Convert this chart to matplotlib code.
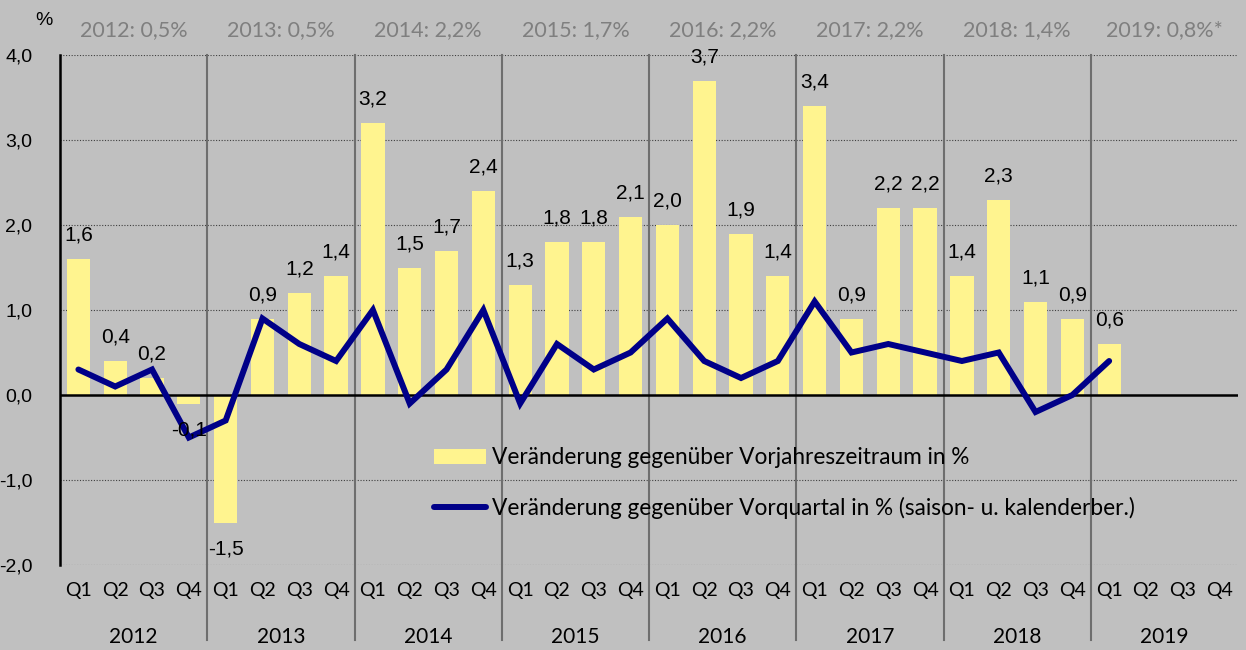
import numpy as np
import matplotlib
matplotlib.use("Agg")
import matplotlib.pyplot as plt
import matplotlib.transforms as mtransforms

years = ["2012", "2013", "2014", "2015", "2016", "2017", "2018", "2019"]
quarters = ["Q1", "Q2", "Q3", "Q4"]
year_notes = ["2012: 0,5%", "2013: 0,5%", "2014: 2,2%", "2015: 1,7%",
              "2016: 2,2%", "2017: 2,2%", "2018: 1,4%", "2019: 0,8%*"]

# Veränderung gegenüber Vorjahreszeitraum (bars)
yoy = [1.6, 0.4, 0.2, -0.1,
       -1.5, 0.9, 1.2, 1.4,
       3.2, 1.5, 1.7, 2.4,
       1.3, 1.8, 1.8, 2.1,
       2.0, 3.7, 1.9, 1.4,
       3.4, 0.9, 2.2, 2.2,
       1.4, 2.3, 1.1, 0.9,
       0.6]
# Veränderung gegenüber Vorquartal (line)
qoq = [0.3, 0.1, 0.3, -0.5,
       -0.3, 0.9, 0.6, 0.4,
       1.0, -0.1, 0.3, 1.0,
       -0.1, 0.6, 0.3, 0.5,
       0.9, 0.4, 0.2, 0.4,
       1.1, 0.5, 0.6, 0.5,
       0.4, 0.5, -0.2, 0.0,
       0.4]

bg = "#c0c0c0"
fig = plt.figure(figsize=(12.46, 6.5), dpi=100, facecolor=bg)
ax = fig.add_axes([60 / 1246, 85 / 650, 1178 / 1246, 510 / 650])
ax.set_facecolor(bg)

n_total = len(years) * 4
x = np.arange(len(yoy))

ax.set_xlim(-0.5, n_total - 0.5)
ax.set_ylim(-2.0, 4.0)

for yv in [-2, -1, 1, 2, 3, 4]:
    ax.axhline(yv, color="#404040", lw=0.8, ls=(0, (1, 1.5)), zorder=0)
ax.axhline(0, color="black", lw=1.8, zorder=3)

bars = ax.bar(x, yoy, width=0.63, color="#fff48f", zorder=1)
line, = ax.plot(x, qoq, color="#000088", lw=4.3, solid_joinstyle="miter",
                solid_capstyle="round", zorder=4)

for xi, v in zip(x, yoy):
    txt = f"{v:.1f}".replace(".", ",")
    off = 17 if v >= 0 else -19
    ax.annotate(txt, (xi, v), xytext=(0, off), textcoords="offset points",
                ha="center", va="center", fontsize=15, family="Liberation Sans", zorder=5)

# year separators running down into the label area
trans = mtransforms.blended_transform_factory(ax.transData, ax.transAxes)
for k in range(1, len(years)):
    ax.plot([4 * k - 0.5] * 2, [-0.147, 1.0], transform=trans, color="#6e6e6e",
            lw=1.5, clip_on=False, zorder=2)

ax.set_xticks(np.arange(n_total))
ax.set_xticklabels(quarters * len(years), family="Lato", fontsize=14)
ax.tick_params(axis="x", length=0, pad=12.5)
for i, (yr, note) in enumerate(zip(years, year_notes)):
    cx = 4 * i + 1.5
    ax.text(cx, -0.141, yr, transform=trans, ha="center", va="center",
            family="Lato", fontsize=15)
    ax.text(cx, 1.049, note, transform=trans, ha="center", va="center",
            family="Lato", fontsize=15.5, color="#7f7f7f")

yt = [-2, -1, 0, 1, 2, 3, 4]
ax.set_yticks(yt)
ax.set_yticklabels([f"{v:.1f}".replace(".", ",") for v in yt],
                   family="Liberation Sans", fontsize=14)
ax.tick_params(axis="y", length=0, pad=20)
ax.text(-0.006, 1.068, "%", transform=ax.transAxes, ha="right", va="center",
        family="Liberation Sans", fontsize=14)

for s in ["top", "right", "bottom"]:
    ax.spines[s].set_visible(False)
ax.spines["left"].set_linewidth(1.8)
ax.spines["left"].set_color("black")

ax.legend([bars, line],
          ["Veränderung gegenüber Vorjahreszeitraum in %",
           "Veränderung gegenüber Vorquartal in % (saison- u. kalenderber.)"],
          loc="upper left", bbox_to_anchor=(0.3175, 0.231), frameon=False,
          prop={"family": "Lato", "size": 16.3}, handlelength=2.3, handleheight=0.62,
          handletextpad=0.25, labelspacing=1.25, borderpad=0, borderaxespad=0)

fig.savefig("out.png", dpi=100, facecolor=bg)
